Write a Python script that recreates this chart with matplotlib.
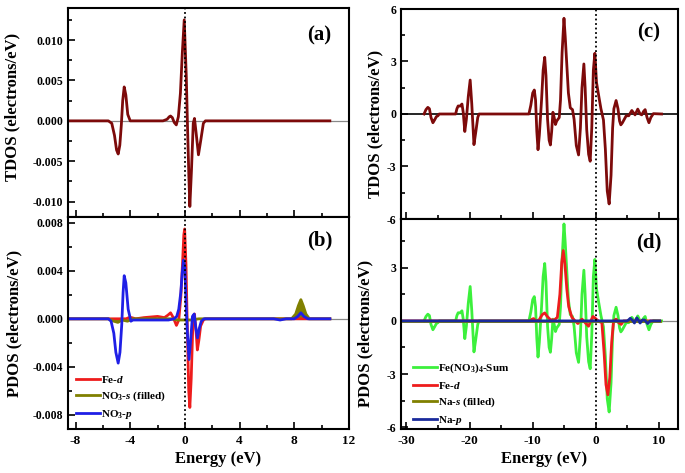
import matplotlib
matplotlib.use("Agg")
import matplotlib.pyplot as plt
from matplotlib.ticker import MultipleLocator

plt.rcParams['font.family'] = ['Liberation Serif', 'DejaVu Serif']
plt.rcParams['font.weight'] = 'bold'
plt.rcParams['axes.labelweight'] = 'bold'
plt.rcParams['axes.unicode_minus'] = False
plt.rcParams['mathtext.fontset'] = 'custom'
plt.rcParams['mathtext.rm'] = 'Liberation Serif:bold'
plt.rcParams['mathtext.it'] = 'Liberation Serif:italic:bold'
plt.rcParams['mathtext.bf'] = 'Liberation Serif:bold'

# ---- panel (a): TDOS, small cell ----
tdos_a_e = [-8.55, -5.6, -5.35, -5.15, -5.0, -4.88, -4.76, -4.65, -4.55, -4.44, -4.32, -4.18,
            -4.0, -1.6, -1.3, -1.15, -1.05, -0.92, -0.78, -0.63, -0.48, -0.33, -0.19, -0.05,
            0.1, 0.19, 0.29, 0.36, 0.48, 0.61, 0.7, 0.82, 0.99, 1.16, 1.35, 1.5, 10.6]
tdos_a = [0, 0, -0.0003, -0.0018, -0.0036, -0.0041, -0.0030, -0.0005, 0.0025, 0.0042, 0.0032, 0.0008,
          0, 0, 0.0002, 0.0005, 0.0006, 0.0004, -0.0002, -0.0005, 0.0005, 0.0034, 0.0084, 0.0125,
          0.0055, -0.0007, -0.0069, -0.0106, -0.0061, -0.0003, 0.0003, -0.0015, -0.0042, -0.0024, -0.0003, 0, 0]

# ---- panel (b): PDOS ----
fed_b_e = [-8.55, -4.3, -4.1, -3.9, -3.6, -3.0, -2.0, -1.5, -1.25, -1.05, -0.85, -0.62, -0.45, -0.3,
           -0.18, -0.08, -0.02, 0.08, 0.18, 0.28, 0.36, 0.46, 0.58, 0.7, 0.8, 0.91, 1.02, 1.15,
           1.35, 1.5, 10.6]
fed_b = [0, 0, 0.0001, 0.0001, 0, 0.0001, 0.0002, 0.0001, 0.0003, 0.0005, 0.0001, -0.00055, -0.0001, 0.0018,
         0.0045, 0.0070, 0.0075, 0.0045, -0.001, -0.006, -0.0074, -0.005, -0.0005, 0.0004, -0.0008, -0.0026,
         -0.0018, -0.0006, -0.0001, 0, 0]
no3s_e = [-8.55, -5.6, -5.2, -4.9, -4.6, -4.2, -3.8, -1.0, -0.5, 0.0, 0.5, 1.0, 7.8, 8.1, 8.3, 8.48,
          8.65, 8.85, 9.1, 10.6]
no3s = [0, 0, -0.0002, -0.0003, -0.0001, -0.0002, 0, 0, -0.0001, -0.0001, -0.0001, 0, 0, 0.0004, 0.0011,
        0.0016, 0.0011, 0.0004, 0, 0]
no3p_e = [-8.55, -5.6, -5.4, -5.2, -5.05, -4.88, -4.75, -4.62, -4.52, -4.44, -4.32, -4.15, -3.95, -3.8,
          -3.5, -2.0, -1.2, -0.8, -0.6, -0.45, -0.3, -0.2, -0.1, 0.0, 0.08, 0.18, 0.3, 0.42, 0.55,
          0.68, 0.8, 0.92, 1.05, 1.2, 1.4, 6.5, 6.96, 7.4, 8.0, 8.25, 8.48, 8.7, 9.0, 10.6]
no3p = [0, 0, -0.0002, -0.0012, -0.0028, -0.0037, -0.0028, -0.0005, 0.0022, 0.0036, 0.0030, 0.0008, -0.0002,
        -0.0001, -0.0001, -0.0001, -0.0001, 0.0, 0.0002, 0.0008, 0.0022, 0.0038, 0.0049, 0.0042, 0.0015,
        -0.0012, -0.0034, -0.0018, 0.0002, 0.0004, -0.0008, -0.0016, -0.0008, -0.0002, 0, 0, -0.0001, 0, 0,
        0.0002, 0.0005, 0.0002, 0, 0]

# ---- panel (c): TDOS (also the Fe(NO3)4 sum in (d)) ----
tdos_c_e = [-27.2, -26.9, -26.6, -26.35, -26.1, -25.8, -25.55, -25.25, -25.0, -24.8,
            -22.2, -22.0, -21.8, -21.5, -21.2, -21.0, -20.75, -20.5, -20.2, -19.9, -19.65, -19.3,
            -19.0, -18.7, -18.5,
            -10.6, -10.3, -10.0, -9.75, -9.55, -9.35, -9.16, -8.95, -8.6, -8.35, -8.1, -7.9, -7.65,
            -7.4, -7.2, -7.0, -6.8, -6.6, -6.4, -6.2, -6.0, -5.8, -5.6, -5.35, -5.05, -4.85, -4.6,
            -4.35, -4.05, -3.7, -3.45, -3.1, -2.74, -2.45, -2.2, -1.9, -1.7, -1.45, -1.15, -0.9,
            -0.65, -0.4, -0.16, 0.1, 0.42, 0.8, 1.2, 1.5, 1.8, 2.1, 2.4, 2.65, 2.85, 3.2, 3.5, 3.75,
            3.95, 4.2, 4.5, 4.8, 5.2, 5.69, 6.2, 6.63, 7.0, 7.26, 7.55, 7.8, 8.1, 8.4, 8.7, 9.1, 10.4]
tdos_c = [0, 0.25, 0.38, 0.3, -0.2, -0.5, -0.35, -0.15, -0.1, 0,
          0, 0.3, 0.46, 0.45, 0.57, 0.1, -1.0, -0.3, 1.0, 1.94, 0.6, -1.75,
          -1.0, -0.2, 0,
          0, 0.5, 1.2, 1.37, 0.8, -1.0, -2.04, -1.2, 0.8, 2.5, 3.24, 2.2, -0.3,
          -1.5, -1.77, -1.0, 0.1, -0.2, -0.6, -0.4, -0.3, -0.2, 0.8, 3.5, 5.47, 4.4, 2.8,
          1.2, 0.35, 0.25, -0.3, -1.8, -2.34, -0.8, 1.5, 2.86, 1.5, -0.9, -2.3, -2.7,
          -0.8, 2.5, 3.47, 1.8, 1.1, 0.3, -0.34, -2.0, -4.4, -5.14, -3.5, -0.8, 0.3, 0.77, 0.3, -0.4,
          -0.62, -0.5, -0.3, -0.1, -0.1, 0.2, -0.05, 0.28, 0.0, -0.05, 0.15, 0.25, -0.2, -0.5, -0.2, 0.02, 0]

# ---- panel (d): PDOS ----
sum_d_e = tdos_c_e
sum_d = tdos_c
fed_d_e = [-30.6, -10.4, -10.1, -9.85, -9.5, -9.0, -8.5, -8.1, -7.7, -7.2, -6.6, -6.1, -5.7, -5.4,
           -5.16, -4.9, -4.6, -4.3, -3.8, -3.3, -2.85, -2.5, -2.2, -1.7, -1.16, -0.8, -0.47, -0.1,
           0.2, 0.6, 0.95, 1.3, 1.6, 1.9, 2.2, 2.5, 2.8, 3.2, 3.6, 4.0, 4.4, 10.1]
fed_d = [0, 0, 0.1, 0.13, 0.0, 0.05, 0.35, 0.45, 0.25, 0.07, 0.05, 0.2, 1.5, 3.3,
         3.97, 3.2, 1.8, 0.8, 0.2, 0.0, -0.15, 0.0, 0.1, -0.1, -0.3, 0.0, 0.25, 0.15,
         0.05, -0.05, -0.1, -1.8, -3.6, -4.17, -3.2, -1.2, 0.0, 0.1, -0.1, -0.2, 0.0, 0]
nas_e = [-30.6, 10.1]
nas = [0, 0]
nap_e = [-30.6, 4.9, 5.16, 5.45, 5.75, 6.1, 6.48, 6.8, 7.0, 7.35, 7.7, 8.2, 8.6, 10.1]
nap = [0, 0, 0.05, 0.15, 0.05, -0.12, 0.17, 0.0, -0.12, 0.05, 0.05, -0.15, 0.0, 0]

W, H = 685, 473
fig = plt.figure(figsize=(W / 100, H / 100), dpi=100)


def box(x0, y0, x1, y1):
    return [x0 / W, 1 - y1 / H, (x1 - x0) / W, (y1 - y0) / H]


ax_a = fig.add_axes(box(68, 8, 349, 217))
ax_b = fig.add_axes(box(68, 217, 349, 429))
ax_c = fig.add_axes(box(401, 9, 678, 219))
ax_d = fig.add_axes(box(401, 219, 678, 429))

dark_red = '#7d0a0a'
red = '#ee1c1c'
olive = '#808000'
blue = '#1f1fe6'
navy = '#1a2a9c'
green = '#3cf03c'
lw = 2.0

# (a)
ax_a.axhline(0, color='#888888', lw=0.9)
ax_a.plot(tdos_a_e, tdos_a, color=dark_red, lw=lw)
# (b)
ax_b.axhline(0, color='#888888', lw=0.9)
ax_b.plot(fed_b_e, fed_b, color=red, lw=lw, label=r'Fe-$\mathit{d}$')
ax_b.fill_between(no3s_e, no3s, 0, color=olive, lw=0)
ax_b.plot(no3s_e, no3s, color=olive, lw=lw, label=r'NO$_3$-$\mathit{s}$ (filled)')
ax_b.plot(no3p_e, no3p, color=blue, lw=lw, label=r'NO$_3$-$\mathit{p}$')
# (c)
ax_c.axhline(0, color='black', lw=1.2)
ax_c.plot(tdos_c_e, tdos_c, color=dark_red, lw=lw)
# (d)
ax_d.axhline(0, color='#888888', lw=0.9)
ax_d.plot(sum_d_e, sum_d, color=green, lw=lw, label=r'Fe(NO$_3$)$_4$-Sum')
ax_d.plot(fed_d_e, fed_d, color=red, lw=lw, label=r'Fe-$\mathit{d}$')
ax_d.fill_between(nas_e, nas, 0, color=olive, lw=0)
ax_d.plot(nas_e, nas, color=olive, lw=lw, label=r'Na-$\mathit{s}$ (filled)')
ax_d.plot(nap_e, nap, color=navy, lw=lw, label=r'Na-$\mathit{p}$')

for ax in (ax_a, ax_b):
    ax.set_xlim(-8.55, 12)
    ax.xaxis.set_major_locator(MultipleLocator(4))
    ax.xaxis.set_minor_locator(MultipleLocator(2))
for ax in (ax_c, ax_d):
    ax.set_xlim(-30.85, 13.0)
    ax.xaxis.set_major_locator(MultipleLocator(10))
    ax.xaxis.set_minor_locator(MultipleLocator(5))

ax_a.set_ylim(-0.0119, 0.01397)
ax_a.yaxis.set_major_locator(MultipleLocator(0.005))
ax_a.yaxis.set_minor_locator(MultipleLocator(0.0025))
ax_b.set_ylim(-0.0092, 0.0085)
ax_b.yaxis.set_major_locator(MultipleLocator(0.004))
ax_b.yaxis.set_minor_locator(MultipleLocator(0.002))
ax_c.set_ylim(-6, 6)
ax_d.set_ylim(-6.1, 5.75)
for ax in (ax_c, ax_d):
    ax.yaxis.set_major_locator(MultipleLocator(3))
    ax.yaxis.set_minor_locator(MultipleLocator(1.5))

for ax in (ax_a, ax_b, ax_c, ax_d):
    ax.axvline(0, color='black', lw=1.3, ls=(0, (1, 1.5)))
    for s in ax.spines.values():
        s.set_linewidth(1.5)
    ax.tick_params(which='both', direction='in', top=False, right=False, width=1.2)
    ax.tick_params(which='major', length=5)
    ax.tick_params(which='minor', length=3)
    ax.tick_params(axis='x', labelsize=9.5, pad=4)
    ax.tick_params(axis='y', labelsize=8.5)

ax_a.yaxis.set_major_formatter(lambda v, p: f'{v:.3f}'.replace('-0.000', '0.000'))
ax_b.yaxis.set_major_formatter(lambda v, p: f'{v:.3f}'.replace('-0.000', '0.000'))
ax_a.tick_params(axis='x', labelbottom=False)
ax_c.tick_params(axis='x', labelbottom=False)

ax_a.set_ylabel('TDOS (electrons/eV)', fontsize=12)
ax_a.yaxis.set_label_coords(-0.171, 0.526)
ax_b.set_ylabel('PDOS (electrons/eV)', fontsize=12)
ax_b.yaxis.set_label_coords(-0.164, 0.5)
ax_c.set_ylabel('TDOS (electrons/eV)', fontsize=12)
ax_c.yaxis.set_label_coords(-0.065, 0.455)
ax_d.set_ylabel('PDOS (electrons/eV)', fontsize=12)
ax_d.yaxis.set_label_coords(-0.101, 0.457)
ax_b.set_xlabel('Energy (eV)', fontsize=12)
ax_b.xaxis.set_label_coords(0.534, -0.105)
ax_d.set_xlabel('Energy (eV)', fontsize=12)
ax_d.xaxis.set_label_coords(0.516, -0.107)

for ax, tag, ty in ((ax_a, '(a)', 0.87), (ax_b, '(b)', 0.89), (ax_c, '(c)', 0.886), (ax_d, '(d)', 0.89)):
    ax.text(0.895, ty, tag, transform=ax.transAxes, fontsize=15, fontweight='bold',
            ha='center', va='center')

ax_b.legend(loc='lower left', frameon=False, fontsize=8, handlelength=2.2,
            handletextpad=0.1, labelspacing=0.45, borderaxespad=0.3)
ax_d.legend(loc='lower left', bbox_to_anchor=(0.027, -0.013), borderaxespad=0,
            frameon=False, fontsize=8, handlelength=2.2,
            handletextpad=0.1, labelspacing=0.45)

fig.savefig('out.png', dpi=100)
